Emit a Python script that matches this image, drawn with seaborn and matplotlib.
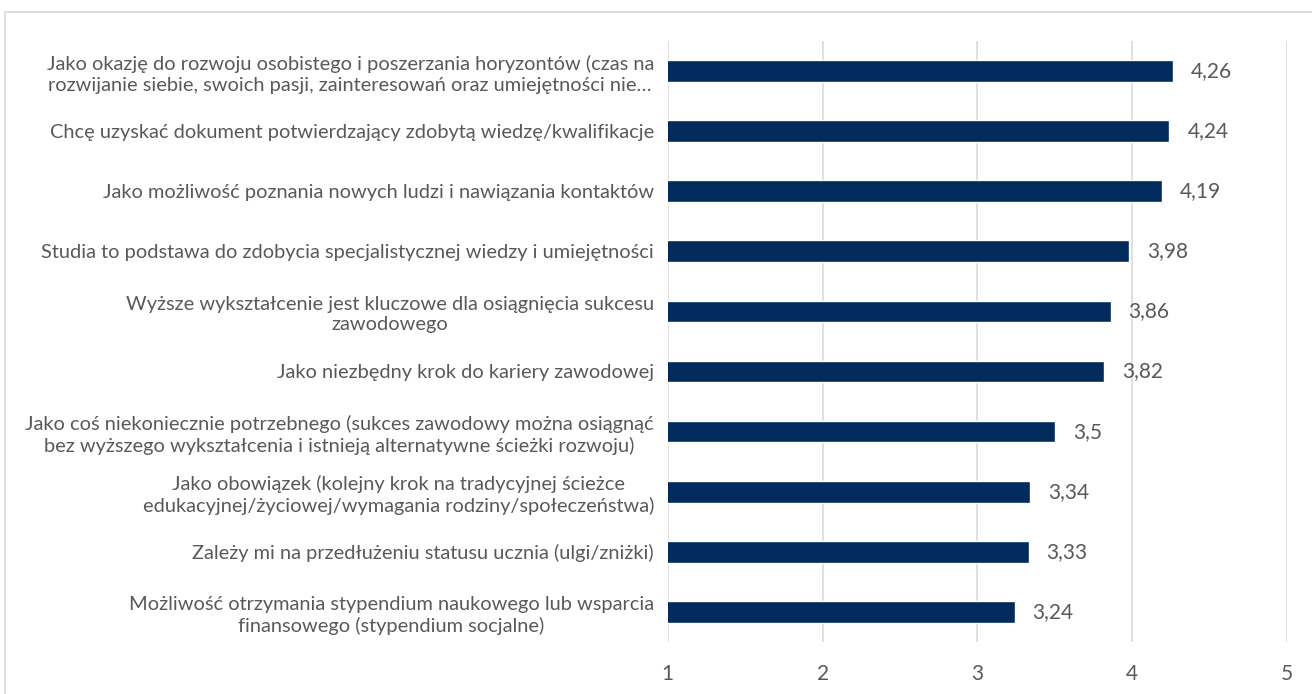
import matplotlib
matplotlib.use("Agg")
import matplotlib.pyplot as plt
import seaborn as sns
import pandas as pd
from matplotlib.patches import Rectangle

# Data
categories = [
    "Jako okazję do rozwoju osobistego i poszerzania horyzontów (czas na\nrozwijanie siebie, swoich pasji, zainteresowań oraz umiejętności nie…",
    "Chcę uzyskać dokument potwierdzający zdobytą wiedzę/kwalifikacje",
    "Jako możliwość poznania nowych ludzi i nawiązania kontaktów",
    "Studia to podstawa do zdobycia specjalistycznej wiedzy i umiejętności",
    "Wyższe wykształcenie jest kluczowe dla osiągnięcia sukcesu\nzawodowego",
    "Jako niezbędny krok do kariery zawodowej",
    "Jako coś niekoniecznie potrzebnego (sukces zawodowy można osiągnąć\nbez wyższego wykształcenia i istnieją alternatywne ścieżki rozwoju)",
    "Jako obowiązek (kolejny krok na tradycyjnej ścieżce\nedukacyjnej/życiowej/wymagania rodziny/społeczeństwa)",
    "Zależy mi na przedłużeniu statusu ucznia (ulgi/zniżki)",
    "Możliwość otrzymania stypendium naukowego lub wsparcia\nfinansowego (stypendium socjalne)",
]
scores = [4.26, 4.24, 4.19, 3.98, 3.86, 3.82, 3.5, 3.34, 3.33, 3.24]
x_ticks = [1, 2, 3, 4, 5]

df = pd.DataFrame({"category": categories, "score": scores})

sns.set_theme(style="white")
plt.rcParams["font.family"] = ["Lato", "DejaVu Sans"]
text_color = "#595959"
bar_color = "#002B5C"

fig = plt.figure(figsize=(13.12, 6.94), dpi=100)
ax = fig.add_axes([0.509, 0.075, 0.472, 0.866])

sns.barplot(data=df, x="score", y="category", orient="h", color=bar_color,
            width=0.36, ax=ax, saturation=1)

ax.set_xlim(1, 5)
ax.set_xticks(x_ticks)
ax.set_xticklabels([str(t) for t in x_ticks], fontsize=15, color=text_color)
ax.tick_params(axis="x", length=0, pad=16)
ax.tick_params(axis="y", length=0, pad=10)
for lbl in ax.get_yticklabels():
    lbl.set_fontsize(14.4)
    lbl.set_color(text_color)
    lbl.set_multialignment("center")
    lbl.set_linespacing(1.25)
ax.set_xlabel("")
ax.set_ylabel("")
ax.grid(axis="x", color="#D9D9D9", linewidth=1.2)
ax.set_axisbelow(True)
for s in ax.spines.values():
    s.set_visible(False)

ax.bar_label(ax.containers[0], labels=[f"{v:g}".replace(".", ",") for v in scores],
             padding=13, fontsize=15, color=text_color)

fig.patches.append(Rectangle((0.004, -0.01), 1.0, 0.993, transform=fig.transFigure,
                             fill=False, edgecolor="#D9D9D9", linewidth=1.2))

fig.savefig("out.png", dpi=100)
